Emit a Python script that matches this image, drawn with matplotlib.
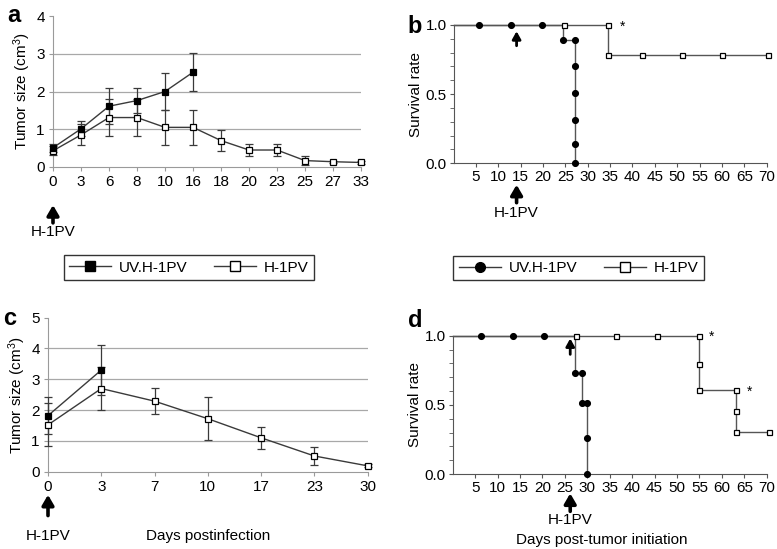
import numpy as np
import matplotlib
matplotlib.use('Agg')
import matplotlib.pyplot as plt
from matplotlib.lines import Line2D
from matplotlib.ticker import MultipleLocator

plt.rcParams['font.family'] = ['Liberation Sans', 'DejaVu Sans']
plt.rcParams['mathtext.default'] = 'regular'
plt.rcParams['font.size'] = 10

# ---- panel a: tumor size, days postinfection
days_a = ['0', '3', '6', '8', '10', '16', '18', '20', '23', '25', '27', '33']
uv_a = [0.51, 1.01, 1.61, 1.76, 2.0, 2.51]
uv_a_err = [0.1, 0.2, 0.48, 0.33, 0.5, 0.5]
h_a = [0.43, 0.85, 1.31, 1.31, 1.05, 1.05, 0.70, 0.45, 0.45, 0.17, 0.14, 0.12]
h_a_err = [0.12, 0.28, 0.5, 0.5, 0.46, 0.46, 0.27, 0.16, 0.16, 0.12, 0.03, 0.03]

# ---- panel b: survival
b_uv_t = [0, 24.5, 27.2]
b_uv_s = [1.0, 0.89, 0.0]
b_uv_mt = [5.7, 12.8, 19.7, 24.5, 27.2, 27.2, 27.2, 27.2, 27.2, 27.2]
b_uv_ms = [1.0, 1.0, 1.0, 0.89, 0.89, 0.70, 0.51, 0.31, 0.14, 0.0]
b_h_t = [0, 34.5, 70.2]
b_h_s = [1.0, 0.78, 0.78]
b_h_mt = [24.8, 34.5, 34.5, 42.1, 51.0, 60.1, 70.2]
b_h_ms = [1.0, 1.0, 0.78, 0.78, 0.78, 0.78, 0.78]
b_inject = 14.1

# ---- panel c: tumor size
days_c = ['0', '3', '7', '10', '17', '23', '30']
uv_c = [1.82, 3.30]
uv_c_err = [0.6, 0.8]
h_c = [1.52, 2.70, 2.29, 1.72, 1.10, 0.51, 0.19]
h_c_err = [0.7, 0.7, 0.42, 0.69, 0.35, 0.3, 0.05]

# ---- panel d: survival
d_uv_t = [0, 27.3, 28.9, 29.9]
d_uv_s = [1.0, 0.733, 0.516, 0.0]
d_uv_mt = [6.3, 13.4, 20.4, 27.3, 28.9, 28.9, 29.9, 29.9, 29.9]
d_uv_ms = [1.0, 1.0, 1.0, 0.733, 0.733, 0.516, 0.516, 0.258, 0.0]
d_h_t = [0, 55.0, 63.2, 70.6]
d_h_s = [1.0, 0.605, 0.306, 0.306]
d_h_mt = [27.5, 36.5, 45.5, 55.0, 55.0, 55.0, 63.2, 63.2, 63.2, 70.6]
d_h_ms = [1.0, 1.0, 1.0, 1.0, 0.795, 0.605, 0.605, 0.458, 0.306, 0.306]
d_inject = 26.2

W, H = 777, 549
fig = plt.figure(figsize=(W / 100, H / 100), dpi=100)

def box(l, r, top, bot):
    return [l / W, 1 - bot / H, (r - l) / W, (bot - top) / H]

ax_a = fig.add_axes(box(53, 361, 16, 167))
ax_b = fig.add_axes(box(453.5, 766.7, 25, 163.3))
ax_c = fig.add_axes(box(48, 367.7, 317.7, 471.7))
ax_d = fig.add_axes(box(452.7, 766.7, 335.7, 474))

LC = '#3a3a3a'


def tumor_axes(ax, labels, ymax):
    ax.set_xlim(0, len(labels) - 1)
    ax.set_ylim(0, ymax)
    ax.set_xticks(range(len(labels)))
    ax.set_xticklabels(labels)
    ax.set_yticks(range(ymax + 1))
    for v in range(1, ymax):
        ax.axhline(v, color='#a8a8a8', lw=0.9, zorder=0)
    for s in ['top', 'right']:
        ax.spines[s].set_visible(False)
    ax.spines['left'].set_color('#9a9a9a')
    ax.spines['bottom'].set_color('#9a9a9a')
    ax.tick_params(length=3, color='#9a9a9a', labelsize=11, pad=3)
    ax.set_ylabel('Tumor size (cm$^{3}$)', fontsize=11, labelpad=2)


def eb(ax, x, y, e, filled):
    ax.errorbar(x, y, yerr=e, fmt='-s', color=LC, lw=1, elinewidth=0.9,
                capsize=3, capthick=0.9, ms=4.5, mec='black',
                mfc='black' if filled else 'white', mew=0.9,
                clip_on=False, zorder=3)


tumor_axes(ax_a, days_a, 4)
eb(ax_a, np.arange(len(h_a)), h_a, h_a_err, False)
eb(ax_a, np.arange(len(uv_a)), uv_a, uv_a_err, True)

tumor_axes(ax_c, days_c, 5)
eb(ax_c, np.arange(len(h_c)), h_c, h_c_err, False)
eb(ax_c, np.arange(len(uv_c)), uv_c, uv_c_err, True)


def surv_axes(ax):
    ax.set_xlim(0, 70)
    ax.set_ylim(0, 1)
    ax.set_xticks(np.arange(5, 71, 5))
    ax.set_yticks([0, 0.5, 1.0])
    ax.set_yticklabels(['0.0', '0.5', '1.0'])
    ax.yaxis.set_minor_locator(MultipleLocator(0.1))
    for s in ['top', 'right']:
        ax.spines[s].set_visible(False)
    for s in ['left', 'bottom']:
        ax.spines[s].set_color('#555555')
    ax.tick_params(which='both', length=3, color='#555555', labelsize=11, pad=2)
    ax.set_ylabel('Survival rate', fontsize=11, labelpad=2)


def surv(ax, t, s, mt, ms, marker, filled, size):
    ax.step(t, s, where='post', color='#555555', lw=1, clip_on=False, zorder=2)
    ax.plot(mt, ms, ls='none', marker=marker, ms=size, mec='black',
            mfc='black' if filled else 'white', mew=0.9, clip_on=False, zorder=3)


surv_axes(ax_b)
surv(ax_b, b_uv_t, b_uv_s, b_uv_mt, b_uv_ms, 'o', True, 4.2)
surv(ax_b, b_h_t, b_h_s, b_h_mt, b_h_ms, 's', False, 3.6)
ax_b.text(37.7, 0.99, '*', ha='center', va='center', fontsize=10)

surv_axes(ax_d)
surv(ax_d, d_uv_t, d_uv_s, d_uv_mt, d_uv_ms, 'o', True, 4.2)
surv(ax_d, d_h_t, d_h_s, d_h_mt, d_h_ms, 's', False, 3.6)
ax_d.text(57.7, 0.99, '*', ha='center', va='center', fontsize=10)
ax_d.text(66.1, 0.595, '*', ha='center', va='center', fontsize=10)

big = dict(arrowstyle='-|>,head_width=0.35,head_length=0.6', lw=2.6, color='black',
           shrinkA=0, shrinkB=0)
small = dict(arrowstyle='-|>,head_width=0.25,head_length=0.45', lw=2.0, color='black',
             shrinkA=0, shrinkB=0)


def inject(ax, x, tip, tail, txt_y, props=big, label='H-1PV'):
    tr = ax.get_xaxis_transform()
    ax.annotate('', xy=(x, tip), xytext=(x, tail), xycoords=tr, textcoords=tr,
                arrowprops=props, annotation_clip=False)
    if label:
        ax.text(x, txt_y, label, transform=tr, ha='center', va='center', fontsize=11)


inject(ax_a, 0, -0.252, -0.37, -0.43)
inject(ax_c, 0, -0.15, -0.285, -0.418)
ax_c.text(0.5, -0.418, 'Days postinfection', transform=ax_c.transAxes,
          ha='center', va='center', fontsize=11)
inject(ax_b, b_inject, -0.155, -0.285, -0.36)
inject(ax_b, b_inject, 0.955, 0.85, 0, props=small, label=None)
inject(ax_d, d_inject, -0.14, -0.27, -0.335)
inject(ax_d, d_inject, 0.98, 0.865, 0, props=small, label=None)
ax_d.text(0.475, -0.475, 'Days post-tumor initiation', transform=ax_d.transAxes,
          ha='center', va='center', fontsize=11)

# panel letters
for x, y, s in [(7, 22, 'a'), (407, 33, 'b'), (3, 325, 'c'), (408, 327, 'd')]:
    fig.text(x / W, 1 - y / H, s, fontsize=17, fontweight='bold', va='baseline')

# legends
h1 = [Line2D([], [], color=LC, lw=1, marker='s', ms=7, mfc='black', mec='black'),
      Line2D([], [], color=LC, lw=1, marker='s', ms=6.5, mfc='white', mec='black')]
h2 = [Line2D([], [], color=LC, lw=1, marker='o', ms=7, mfc='black', mec='black'),
      Line2D([], [], color=LC, lw=1, marker='s', ms=6.5, mfc='white', mec='black')]
labs = ['UV.H-1PV', 'H-1PV']
for hh, cx, cy in [(h1, 189, 267.5), (h2, 578.5, 268)]:
    lg = fig.legend(hh, labs, loc='center', bbox_to_anchor=(cx / W, 1 - cy / H),
                    ncol=2, frameon=True, fancybox=False, edgecolor='black',
                    fontsize=11, handlelength=2.75, columnspacing=1.75,
                    handletextpad=0.5, borderpad=0.35)
    lg.get_frame().set_linewidth(1.0)

fig.savefig('out.png', dpi=100)
